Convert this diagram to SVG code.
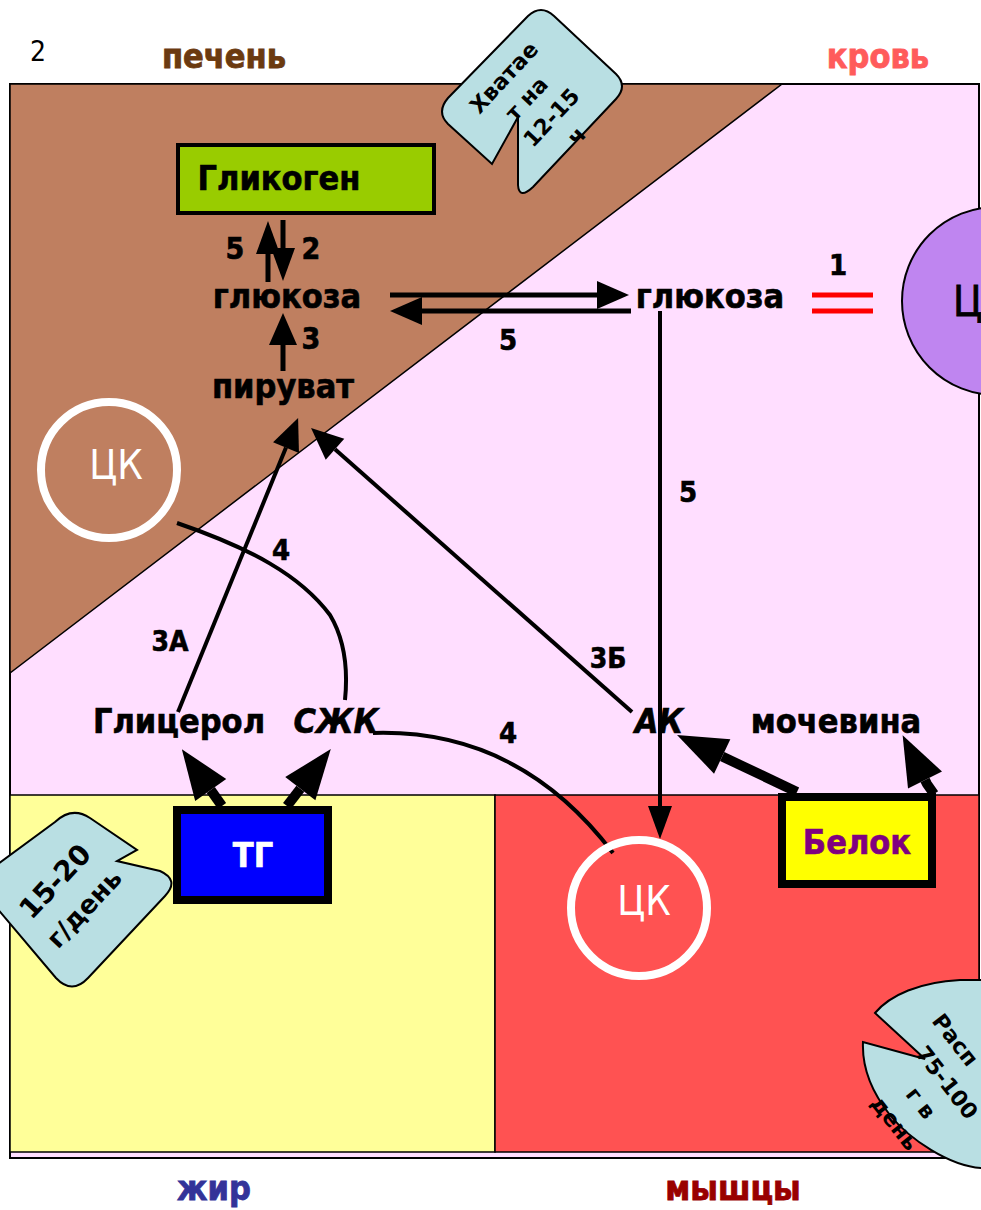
<svg xmlns="http://www.w3.org/2000/svg" width="981" height="1210" viewBox="0 0 981 1210">
<defs>
<style>
.t{font-family:"DejaVu Sans Condensed","DejaVu Sans",sans-serif;font-weight:bold;fill:#000;stroke:#000;stroke-width:0.6;text-anchor:middle}
.q{font-family:"DejaVu Sans",sans-serif;font-weight:bold;fill:#000;text-anchor:middle}
.w{font-size:34px}
.ck{font-family:"DejaVu Sans Condensed","DejaVu Sans",sans-serif;font-size:40px;fill:#fff;text-anchor:middle}
.ln{fill:none;stroke:#000;stroke-width:5}
.ln4{fill:none;stroke:#000;stroke-width:4}
.th{fill:none;stroke:#000;stroke-width:10}
.call{fill:#B9DFE3;stroke:#000;stroke-width:2}
.ring{fill:none;stroke:#fff;stroke-width:8}
</style>
<marker id="ah" viewBox="0 -15 34 30" markerWidth="34" markerHeight="30" refX="0" refY="0" orient="auto" markerUnits="userSpaceOnUse" overflow="visible">
<path d="M0,-14 L32,0 L0,14 Z" fill="#000"/>
</marker>
<marker id="ahs" viewBox="0 -12 34 24" markerWidth="34" markerHeight="24" refX="0" refY="0" orient="auto" markerUnits="userSpaceOnUse" overflow="visible">
<path d="M0,-12 L33,0 L0,12 Z" fill="#000"/>
</marker>
<marker id="ab" viewBox="0 -20 52 40" markerWidth="52" markerHeight="40" refX="0" refY="0" orient="auto" markerUnits="userSpaceOnUse" overflow="visible">
<path d="M0,-19 L50,0 L0,19 Z" fill="#000"/>
</marker>
</defs>
<rect width="981" height="1210" fill="#fff"/>
<g id="regions">
<rect x="10" y="84" width="969" height="1074" fill="#FFDEFF" stroke="#000" stroke-width="2"/>
<polygon points="10,84 782,84 10,673" fill="#BF7F60" stroke="#000" stroke-width="1.5"/>
<rect x="10" y="795" width="485" height="357" fill="#FFFF99" stroke="#000" stroke-width="1.5"/>
<rect x="495" y="795" width="484" height="357" fill="#FF5252" stroke="#000" stroke-width="1.5"/>
</g>
<g id="headers" font-family="DejaVu Sans Condensed, DejaVu Sans, sans-serif" font-weight="bold" text-anchor="middle" font-size="34">
<text x="38" y="61" font-weight="normal" font-size="28">2</text>
<text x="224" y="68" fill="#6B3A10" stroke="#6B3A10" stroke-width="0.8">печень</text>
<text x="878" y="68" fill="#FF5B5B" stroke="#FF5B5B" stroke-width="0.8">кровь</text>
<text x="214" y="1200" fill="#333399" stroke="#333399" stroke-width="0.8">жир</text>
<text x="733" y="1200" fill="#990000" stroke="#990000" stroke-width="0.8">мышцы</text>
</g>
<g id="connectors">
<line class="ln" x1="268" y1="282" x2="268" y2="254" marker-end="url(#ahs)"/>
<line class="ln" x1="283" y1="220" x2="283" y2="248" marker-end="url(#ahs)"/>
<line class="ln" x1="283" y1="371" x2="283" y2="345" marker-end="url(#ah)"/>
<line class="ln" x1="390" y1="295" x2="597" y2="295" marker-end="url(#ah)"/>
<line class="ln" x1="631" y1="311" x2="422" y2="311" marker-end="url(#ah)"/>
<line class="ln4" x1="660" y1="311" x2="660" y2="806" marker-end="url(#ahs)"/>
<line class="ln4" x1="178" y1="712" x2="286" y2="447.6" marker-end="url(#ah)"/>
<line class="ln4" x1="632" y1="712" x2="335" y2="449.2" marker-end="url(#ah)"/>
<path class="ln4" d="M177,523 C250,548 300,575 330,615 C345,640 348,670 345,700"/>
<path class="ln4" d="M373,733 C470,730 550,770 613,853"/>
<line class="th" x1="222" y1="806" x2="210.7" y2="790" marker-end="url(#ab)"/>
<line class="th" x1="287" y1="806" x2="300.3" y2="788.7" marker-end="url(#ab)"/>
<line class="th" x1="797" y1="792" x2="722.2" y2="756.5" stroke-width="8" marker-end="url(#ab)"/>
<path class="th" stroke-width="8" d="M934,794 L927,784 L925,780" marker-end="url(#ab)"/>
</g>
<g id="edge-labels">
<text class="t" x="235" y="259" font-size="30">5</text>
<text class="t" x="311" y="259" font-size="30">2</text>
<text class="t" x="311" y="349" font-size="30">3</text>
<text class="t" x="508" y="350" font-size="29">5</text>
<text class="t" x="688" y="502" font-size="29">5</text>
<text class="t" x="838" y="275" font-size="29">1</text>
<text class="t" x="281" y="560" font-size="29">4</text>
<text class="t" x="508" y="743" font-size="29">4</text>
<text class="t" x="170" y="651" font-size="28">3А</text>
<text class="t" x="608" y="668" font-size="28">3Б</text>
</g>
<g id="equal">
<line x1="812" y1="295" x2="873" y2="295" stroke="#f00" stroke-width="5"/>
<line x1="812" y1="311" x2="873" y2="311" stroke="#f00" stroke-width="5"/>
</g>
<g id="glycogen">
<rect x="178" y="145" width="256" height="68" fill="#99CC00" stroke="#000" stroke-width="4"/>
<text class="t w" x="279" y="190">Гликоген</text>
</g>
<g id="glucose-liver"><text class="t w" x="287" y="308">глюкоза</text></g>
<g id="pyruvate"><text class="t w" x="283" y="398">пируват</text></g>
<g id="glucose-blood"><text class="t w" x="710" y="308">глюкоза</text></g>
<g id="ck-liver">
<circle class="ring" cx="109" cy="470" r="68"/>
<text class="ck" x="116" y="479">ЦК</text>
</g>
<g id="ck-brain">
<circle cx="996" cy="301" r="94" fill="#BF85F0" stroke="#000" stroke-width="2"/>
<text x="953" y="316" font-family="DejaVu Sans Condensed, DejaVu Sans, sans-serif" font-size="42" stroke="#000" stroke-width="0.8">ЦК</text>
</g>
<g id="glycerol"><text class="t w" x="179" y="733">Глицерол</text></g>
<g id="ffa"><text class="t w" x="336" y="733" font-style="italic">СЖК</text></g>
<g id="aa"><text class="t w" x="659" y="733" font-style="italic">АК</text></g>
<g id="urea"><text class="t w" x="836" y="733">мочевина</text></g>
<g id="tg">
<rect x="177" y="810" width="151" height="90" fill="#0000FF" stroke="#000" stroke-width="8"/>
<text class="t w" x="253" y="867" style="fill:#fff;stroke:#fff">ТГ</text>
</g>
<g id="protein">
<rect x="782" y="797" width="150" height="87" fill="#FFFF00" stroke="#000" stroke-width="8"/>
<text class="t w" x="857" y="854" style="fill:#800080;stroke:#800080">Белок</text>
</g>
<g id="ck-muscle">
<circle class="ring" cx="639" cy="908" r="68" stroke-width="7"/>
<text class="ck" x="644" y="915" font-size="38">ЦК</text>
</g>
<g id="note-liver">
<path class="call" d="M528,16 Q541,4 554,16 L616,74 Q628,86 616,99 L533,187 Q519,200 518,185 L518,117 L492,164 L448,124 Q436,112 448,98 Z"/>
<g transform="rotate(-47)">
<text class="q" x="287" y="429" font-size="22">Хватае</text>
<text class="q" x="287" y="460" font-size="22">т на</text>
<text class="q" x="290" y="491" font-size="22">12-15</text>
<text class="q" x="294" y="522" font-size="22">ч</text>
</g>
</g>
<g id="note-fat">
<path class="call" d="M55,822 Q72,806 90,818 L137,850 L117,861 L160,871 Q180,880 165,896 L88,978 Q72,995 56,978 L-10,900 L-10,870 Z"/>
<g transform="rotate(-47)">
<text class="q" x="-607" y="651" font-size="28">15-20</text>
<text class="q" x="-607" y="690" font-size="26">г/день</text>
</g>
</g>
<g id="note-muscle">
<path class="call" d="M875,1013 C890,995 920,982 960,980 L1000,980 L1000,1170 L981,1168 C950,1166 910,1140 890,1115 C870,1090 862,1065 863,1042 L925,1059 Z"/>
<g transform="rotate(52)">
<text class="q" x="1378" y="-105" font-size="22" style="text-anchor:start">Расп</text>
<text class="q" x="1436" y="-72" font-size="22">75-100</text>
<text class="q" x="1436" y="-39" font-size="22">г в</text>
<text class="q" x="1436" y="-6" font-size="22">день</text>
</g>
</g>
</svg>
